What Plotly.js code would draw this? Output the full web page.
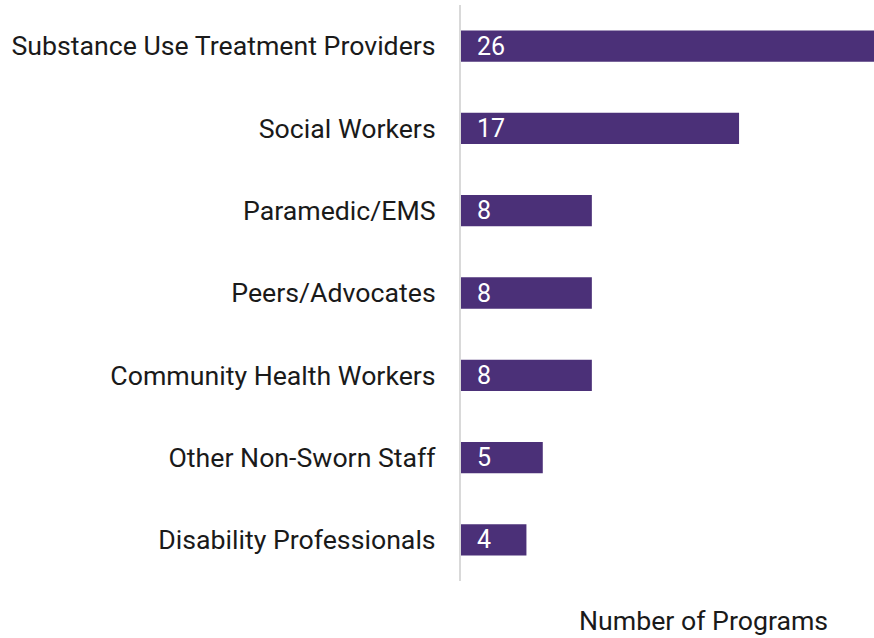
<!DOCTYPE html>
<html><head><meta charset="utf-8">
<script src="https://cdn.plot.ly/plotly-3.0.1.min.js"></script>
<style>html,body{margin:0;padding:0;background:#fff}#c{width:874px;height:638px}</style>
</head><body><div id="c"></div>
<script>
const categories = ["Substance Use Treatment Providers","Social Workers","Paramedic/EMS","Peers/Advocates","Community Health Workers","Other Non-Sworn Staff","Disability Professionals"];
const values = [26,17,8,8,8,5,4];
const xTitle = "Number of Programs";
const barColor = "#4B3078";

const trace = {
  type: "bar", orientation: "h",
  x: values, y: categories,
  marker: {color: barColor},
  width: 0.38,
  hoverinfo: "none"
};
const annotations = categories.map((c,i)=>({
  x: 0, y: c, xref: "x", yref: "y", text: String(values[i]),
  showarrow: false, xanchor: "left", xshift: 14,
  font: {family: "Roboto", size: 25, color: "#ffffff"}
}));
annotations.push({
  xref: "paper", yref: "paper", x: 0.588, y: -0.0694, yanchor: "middle", xanchor: "center",
  text: xTitle, showarrow: false,
  font: {family: "Roboto", size: 26.7, color: "#1a1a1a"}
});
const layout = {
  width: 874, height: 638,
  margin: {l: 461, r: 0, t: 5, b: 57},
  paper_bgcolor: "#ffffff", plot_bgcolor: "#ffffff",
  showlegend: false,
  xaxis: {range: [0, 25.25], showgrid: false, zeroline: false, showticklabels: false, showline: false, ticks: ""},
  yaxis: {type: "category", autorange: "reversed", range: [6.5,-0.5], showgrid: false, zeroline: false,
    showline: true, linecolor: "#d9d9d9", linewidth: 2, ticks: "", ticklabelstandoff: 18,
    tickfont: {family: "Roboto", size: 26.7, color: "#1a1a1a"}},
  annotations: annotations
};
Plotly.newPlot("c", [trace], layout, {displayModeBar: false, staticPlot: true});
</script></body></html>
